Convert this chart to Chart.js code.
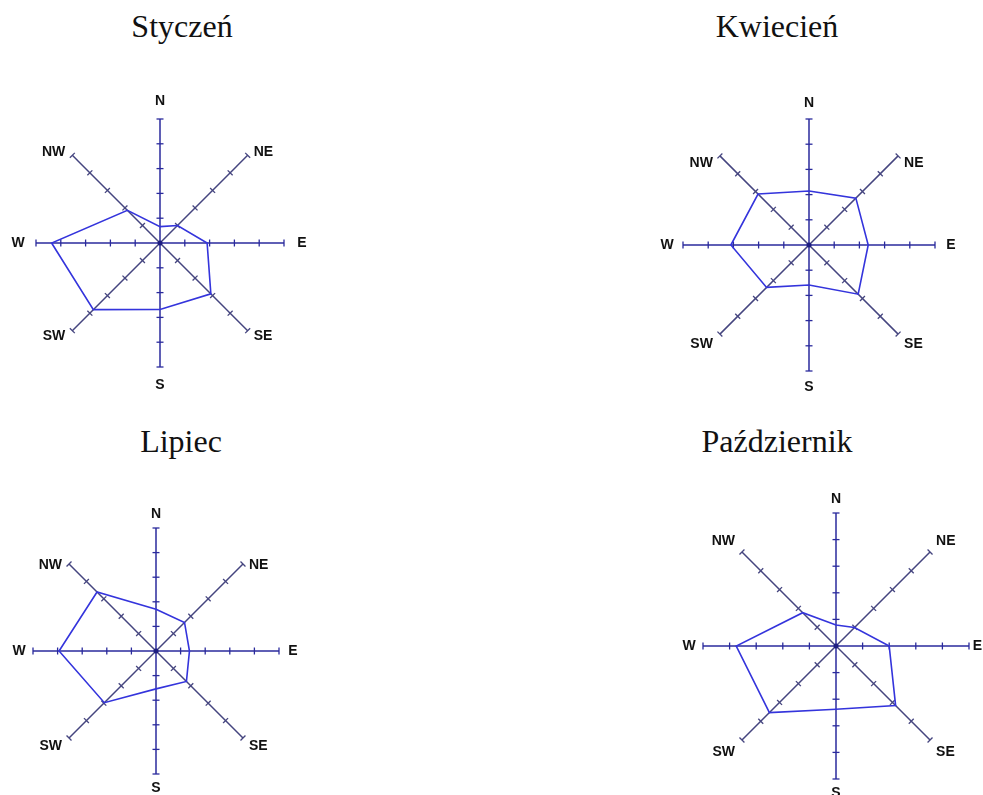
<!DOCTYPE html>
<html>
<head>
<meta charset="utf-8">
<script src="https://cdn.jsdelivr.net/npm/chart.js@4.4.0/dist/chart.umd.min.js"></script>
<style>
  html, body { margin: 0; padding: 0; background: #fff; width: 983px; height: 795px; overflow: hidden; position: relative; }
  .tytul { position: absolute; width: 300px; text-align: center; font-family: "Liberation Serif", "Times New Roman", serif; font-size: 32px; line-height: 32px; color: #111; }
  .pudelko { position: absolute; }
</style>
</head>
<body>
<div id="strona"></div>
<script>
// --- DANE: róże wiatrów (częstość wg kierunku) ---
const kierunki = ['N', 'NE', 'E', 'SE', 'S', 'SW', 'W', 'NW'];
const skalaMax = 5;

const styczen = [0.66, 1.0, 1.9, 2.9, 2.68, 3.8, 4.37, 1.86];
const kwiecien = [2.14, 2.63, 2.35, 2.76, 1.59, 2.38, 3.1, 2.86];
const lipiec = [1.7, 1.64, 1.36, 1.75, 1.54, 2.97, 3.94, 3.39];
const pazdziernik = [0.79, 0.98, 2.0, 3.17, 2.38, 3.54, 3.75, 1.77];

// układ na stronie: środek róży, promień, tytuł, przesunięcia etykiet
const roze = [
    { tytul: 'Styczeń', dane: styczen, cx: 160, cy: 243, r: 124, tx: 182, ty: 10, dN: 18, dGora: -3, dDol: 5 },
    { tytul: 'Kwiecień', dane: kwiecien, cx: 809, cy: 245, r: 126, tx: 777, ty: 10, dN: 16, dGora: 7, dDol: 10 },
    { tytul: 'Lipiec', dane: lipiec, cx: 156, cy: 651, r: 123, tx: 181, ty: 425, dN: 14, dGora: 1, dDol: 8 },
    { tytul: 'Październik', dane: pazdziernik, cx: 836, cy: 646, r: 133, tx: 777, ty: 425, dN: 14, dGora: -11, dDol: 12 }
];

const KOLOR_OS = '#2a2a9c';
const KOLOR_SKOS = '#45457f';
const KOLOR_LINII = '#3434dc';
const MARGINES = 40;
const SZER_STRONY = 983;

// Kreski podziałki na każdej osi + kropka w środku, potem etykiety
const podzialka = {
    id: 'podzialka',
    beforeDatasetsDraw(chart) {
        const s = chart.scales.r;
        const ctx = chart.ctx;
        ctx.save();
        ctx.lineWidth = 1.3;
        for (let i = 0; i < kierunki.length; i++) {
            const a = s.getIndexAngle(i) - Math.PI / 2;
            const px = -Math.sin(a), py = Math.cos(a);
            ctx.strokeStyle = (i % 2 === 0) ? KOLOR_OS : KOLOR_SKOS;
            for (let v = 1; v <= skalaMax; v++) {
                const p = s.getPointPositionForValue(i, v);
                ctx.beginPath();
                ctx.moveTo(p.x - px * 3.5, p.y - py * 3.5);
                ctx.lineTo(p.x + px * 3.5, p.y + py * 3.5);
                ctx.stroke();
            }
        }
        ctx.fillStyle = '#1c1c80';
        ctx.beginPath();
        ctx.arc(s.xCenter, s.yCenter, 2.5, 0, Math.PI * 2);
        ctx.fill();
        ctx.restore();
    },
    afterDraw(chart, args, opts) {
        const s = chart.scales.r;
        const ctx = chart.ctx;
        const lewo = chart.canvas.getBoundingClientRect().left;
        ctx.save();
        ctx.fillStyle = '#111';
        ctx.font = 'bold 14px "Liberation Sans", Arial, sans-serif';
        ctx.textBaseline = 'middle';
        for (let i = 0; i < kierunki.length; i++) {
            const txt = kierunki[i];
            const w = ctx.measureText(txt).width;
            if (i % 2 === 0) {
                const p = s.getPointPosition(i, s.drawingArea + opts.dN);
                let x = p.x;
                // nie wychodź poza prawą krawędź strony
                const maxX = SZER_STRONY - lewo - w / 2 - 1;
                if (x > maxX) x = maxX;
                ctx.textAlign = 'center';
                ctx.fillText(txt, x, p.y);
            } else {
                const p = s.getPointPosition(i, s.drawingArea);
                const prawo = p.x > s.xCenter;
                const gora = p.y < s.yCenter;
                ctx.textAlign = prawo ? 'left' : 'right';
                ctx.fillText(txt, p.x + (prawo ? 6 : -7), p.y + (gora ? opts.dGora : opts.dDol));
            }
        }
        ctx.restore();
    }
};

const strona = document.getElementById('strona');

roze.forEach((roza) => {
    const t = document.createElement('div');
    t.className = 'tytul';
    t.style.left = (roza.tx - 150) + 'px';
    t.style.top = roza.ty + 'px';
    t.textContent = roza.tytul;
    strona.appendChild(t);

    const bok = 2 * roza.r + 2 * MARGINES;
    const box = document.createElement('div');
    box.className = 'pudelko';
    box.style.left = (roza.cx - roza.r - MARGINES) + 'px';
    box.style.top = (roza.cy - roza.r - MARGINES) + 'px';
    box.style.width = bok + 'px';
    box.style.height = bok + 'px';
    const canvas = document.createElement('canvas');
    box.appendChild(canvas);
    strona.appendChild(box);

    new Chart(canvas, {
        type: 'radar',
        data: {
            labels: kierunki,
            datasets: [{
                label: roza.tytul,
                data: roza.dane,
                borderColor: KOLOR_LINII,
                borderWidth: 1.6,
                backgroundColor: 'rgba(0,0,0,0)',
                fill: false,
                pointRadius: 0,
                tension: 0
            }]
        },
        options: {
            responsive: true,
            maintainAspectRatio: false,
            animation: false,
            layout: { padding: MARGINES },
            plugins: {
                legend: { display: false },
                tooltip: { enabled: false },
                podzialka: { dN: roza.dN, dGora: roza.dGora, dDol: roza.dDol }
            },
            scales: {
                r: {
                    min: 0,
                    max: skalaMax,
                    ticks: { display: false, stepSize: 1 },
                    grid: { display: false },
                    pointLabels: { display: false },
                    angleLines: {
                        display: true,
                        lineWidth: 1.5,
                        color: (ctx) => (ctx.index % 2 === 0) ? KOLOR_OS : KOLOR_SKOS
                    }
                }
            }
        },
        plugins: [podzialka]
    });
});
</script>
</body>
</html>
